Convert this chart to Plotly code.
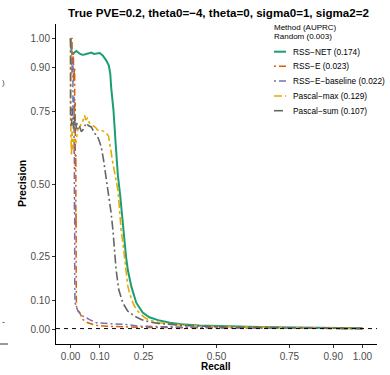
import plotly.graph_objects as go

# ---------------- data ----------------
net_recall = [0, 0.003, 0.008, 0.02, 0.031, 0.04, 0.048, 0.06, 0.071, 0.08, 0.088, 0.1, 0.11,
              0.122, 0.131, 0.136, 0.139, 0.143, 0.147, 0.155, 0.162, 0.17, 0.178, 0.185, 0.19,
              0.196, 0.208, 0.225, 0.247, 0.27, 0.3, 0.34, 0.38, 0.44, 0.52, 0.61, 0.7, 0.78, 0.88, 1.0]
net_prec = [1.0, 0.955, 0.948, 0.957, 0.948, 0.944, 0.945, 0.95, 0.952, 0.947, 0.948, 0.95, 0.942,
            0.925, 0.907, 0.879, 0.833, 0.788, 0.753, 0.63, 0.53, 0.46, 0.37, 0.30, 0.25,
            0.205, 0.148, 0.092, 0.058, 0.042, 0.032, 0.023, 0.018, 0.014, 0.011, 0.009, 0.008, 0.007, 0.005, 0.004]

rsse_recall = [0, 0.005, 0.005, 0.01, 0.01, 0.014, 0.014, 0.016, 0.016, 0.018, 0.018, 0.019, 0.019,
               0.019, 0.02, 0.024, 0.031, 0.042, 0.059, 0.088, 0.122, 0.19, 0.26, 0.4, 0.6, 0.8, 1.0]
rsse_prec = [1.0, 1.0, 0.9, 0.95, 0.85, 0.9, 0.72, 0.78, 0.55, 0.6, 0.35, 0.4, 0.2,
             0.12, 0.08, 0.068, 0.058, 0.034, 0.023, 0.014, 0.011, 0.009, 0.007, 0.006, 0.005, 0.004, 0.003]

base_recall = [0, 0.004, 0.004, 0.008, 0.008, 0.012, 0.012, 0.013, 0.013, 0.014, 0.014, 0.015, 0.025,
               0.042, 0.065, 0.088, 0.134, 0.19, 0.236, 0.35, 0.5, 0.75, 1.0]
base_prec = [1.0, 0.95, 0.88, 0.92, 0.75, 0.8, 0.6, 0.65, 0.4, 0.45, 0.2, 0.092, 0.063,
             0.046, 0.034, 0.023, 0.02, 0.017, 0.011, 0.008, 0.006, 0.005, 0.003]

pmax_recall = [0, 0, 0.003, 0.005, 0.008, 0.012, 0.018, 0.024, 0.033, 0.041, 0.048, 0.052, 0.058,
               0.065, 0.075, 0.085, 0.093, 0.105, 0.115, 0.122, 0.13, 0.134, 0.139, 0.143, 0.147,
               0.151, 0.154, 0.158, 0.162, 0.168, 0.173, 0.179, 0.185, 0.19, 0.196, 0.202, 0.21,
               0.219, 0.23, 0.242, 0.255, 0.27, 0.29, 0.305, 0.35, 0.4, 0.5, 0.6, 0.7, 0.8, 0.9, 1.0]
pmax_prec = [1.0, 0.72, 0.6, 0.68, 0.62, 0.66, 0.64, 0.685, 0.7, 0.713, 0.736, 0.72, 0.726,
             0.709, 0.702, 0.695, 0.685, 0.685, 0.68, 0.675, 0.665, 0.645, 0.61, 0.582, 0.56,
             0.54, 0.52, 0.50, 0.48, 0.41, 0.342, 0.30, 0.25, 0.19, 0.15, 0.126, 0.10,
             0.08, 0.063, 0.051, 0.04, 0.032, 0.026, 0.023, 0.018, 0.014, 0.01, 0.008, 0.006, 0.005, 0.004, 0.003]

psum_recall = [0, 0, 0.003, 0.006, 0.01, 0.013, 0.017, 0.021, 0.025, 0.03, 0.037, 0.045, 0.053,
               0.062, 0.071, 0.082, 0.093, 0.105, 0.113, 0.12, 0.131, 0.139, 0.145, 0.151, 0.156,
               0.165, 0.179, 0.196, 0.219, 0.242, 0.27, 0.3, 0.35, 0.4, 0.5, 0.6, 0.7, 0.8, 0.9, 1.0]
psum_prec = [1.0, 0.74, 0.70, 0.76, 0.69, 0.73, 0.68, 0.71, 0.69, 0.70, 0.68, 0.69, 0.709,
             0.70, 0.696, 0.675, 0.662, 0.628, 0.582, 0.537, 0.457, 0.40, 0.342, 0.274, 0.205,
             0.137, 0.091, 0.063, 0.046, 0.034, 0.026, 0.021, 0.016, 0.013, 0.009, 0.007, 0.006, 0.005, 0.004, 0.003]

methods = ["RSS−NET", "RSS−E", "RSS−E−baseline", "Pascal−max", "Pascal−sum"]
auprc = [0.174, 0.023, 0.022, 0.129, 0.107]
random_auprc = 0.003
colors = ["#1B9E77", "#D95F02", "#7570B3", "#E6AB02", "#666666"]
dashes = ["solid", "2px,3px,7px,3px", "2px,3px,7px,3px", "8px,3px,3px,3px", "9px,3px,2px,3px"]
widths = [2.0, 1.5, 1.5, 1.6, 1.6]

tick_vals = [0, 0.10, 0.25, 0.50, 0.75, 0.90, 1.00]
tick_text = ["0.00", "0.10", "0.25", "0.50", "0.75", "0.90", "1.00"]

title = "True PVE=0.2, theta0=−4, theta=0, sigma0=1, sigma2=2"

# ---------------- figure ----------------
W, H = 390, 375
L, R, T, B = 56, 377, 24, 344  # panel pixel box


def px(x):
    return (x - L) / (R - L)


def py(y):
    return (B - y) / (B - T)


series = [(net_recall, net_prec), (rsse_recall, rsse_prec), (base_recall, base_prec),
          (pmax_recall, pmax_prec), (psum_recall, psum_prec)]

fig = go.Figure()
for (rx, ry), name, c, d, w in zip(series, methods, colors, dashes, widths):
    fig.add_trace(go.Scatter(x=rx, y=ry, mode="lines", name=name,
                             line=dict(color=c, dash=d, width=w), showlegend=False))

font = "Liberation Sans, Arial, sans-serif"
shapes = [
    dict(type="line", xref="paper", yref="y", x0=0, x1=1, y0=random_auprc, y1=random_auprc,
         line=dict(color="black", width=1, dash="4px,4px")),
    # cropped neighbour artefact at left edge
    dict(type="line", xref="paper", yref="paper", x0=px(0), x1=px(8), y0=py(344), y1=py(344),
         line=dict(color="#333333", width=1)),
]
annotations = [
    dict(text=f"<b>{title}</b>", xref="paper", yref="paper", x=px(218.5), y=py(12.7), showarrow=False,
         font=dict(family=font, size=11.6, color="black"), xanchor="center", yanchor="middle"),
    dict(text="<b>Precision</b>", xref="paper", yref="paper", x=px(22), y=py(184), showarrow=False,
         textangle=-90, font=dict(family=font, size=10.5, color="black"), xanchor="center", yanchor="middle"),
    dict(text="<b>Recall</b>", xref="paper", yref="paper", x=px(216), y=py(366), showarrow=False,
         font=dict(family=font, size=10, color="black"), xanchor="center", yanchor="middle"),
    dict(text="Method (AUPRC)", xref="paper", yref="paper", x=px(272), y=py(27.5), showarrow=False,
         font=dict(family=font, size=8, color="black"), xanchor="left", yanchor="middle"),
    dict(text=f"Random ({random_auprc:.3f})", xref="paper", yref="paper", x=px(272), y=py(36.5), showarrow=False,
         font=dict(family=font, size=8, color="black"), xanchor="left", yanchor="middle"),
    dict(text=")", xref="paper", yref="paper", x=px(0), y=py(82), showarrow=False,
         font=dict(family=font, size=8, color="#444444"), xanchor="left", yanchor="middle"),
    dict(text="-", xref="paper", yref="paper", x=px(0), y=py(322), showarrow=False,
         font=dict(family=font, size=9, color="#444444"), xanchor="left", yanchor="middle"),
]

leg_y = [51.7, 66.2, 81.0, 96.0, 110.7]
for name, a, c, d, w, yy in zip(methods, auprc, colors, dashes, widths, leg_y):
    shapes.append(dict(type="line", xref="paper", yref="paper", x0=px(274), x1=px(286),
                       y0=py(yy), y1=py(yy), line=dict(color=c, dash=d, width=w)))
    annotations.append(dict(text=f"{name} ({a:.3f})", xref="paper", yref="paper", x=px(291), y=py(yy),
                            showarrow=False, xanchor="left", yanchor="middle",
                            font=dict(family=font, size=8.3, color="black")))

axis_common = dict(showline=True, linecolor="black", linewidth=1, ticks="outside", ticklen=3,
                   tickcolor="#333333", tickwidth=1, showgrid=False, zeroline=False,
                   tickfont=dict(family=font, size=10, color="#4D4D4D"),
                   tickvals=tick_vals, ticktext=tick_text)

fig.update_layout(
    width=W, height=H,
    margin=dict(l=L, r=W - R, t=T, b=H - B),
    paper_bgcolor="white", plot_bgcolor="white",
    xaxis=dict(range=[-0.05, 1.05], **axis_common),
    yaxis=dict(range=[-0.05, 1.05], **axis_common),
    shapes=shapes, annotations=annotations,
)

fig.write_html("out.html")
